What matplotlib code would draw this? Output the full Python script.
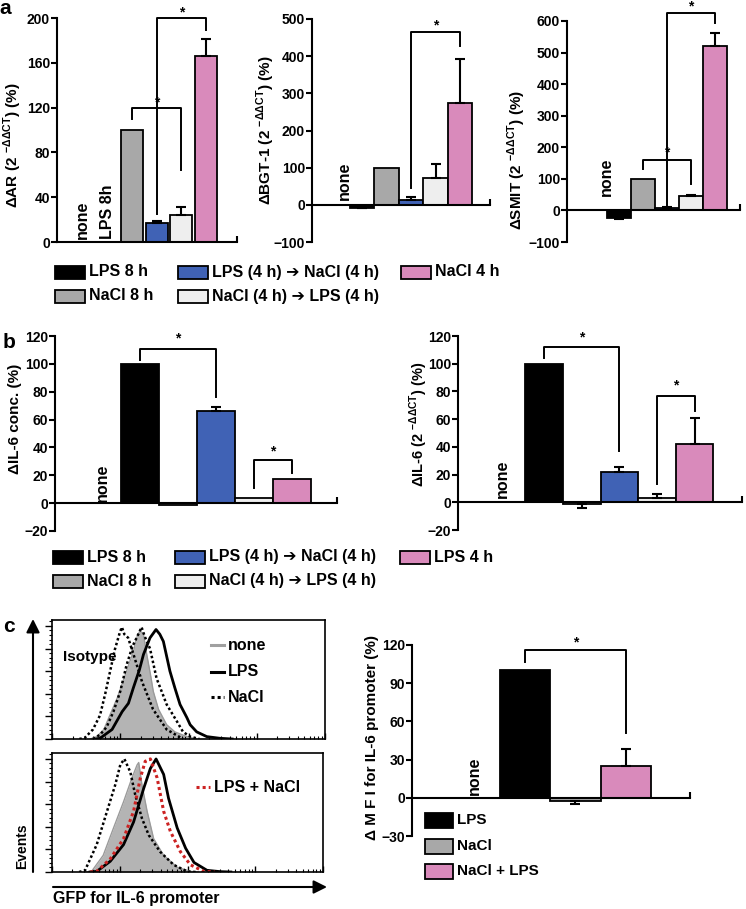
import matplotlib
matplotlib.use('Agg')
import matplotlib.pyplot as plt
from matplotlib.patches import Rectangle
import numpy as np

plt.rcParams['font.family'] = ['Liberation Sans', 'DejaVu Sans']
plt.rcParams['font.weight'] = 'bold'
plt.rcParams['mathtext.fontset'] = 'custom'
plt.rcParams['mathtext.rm'] = 'Liberation Sans'
plt.rcParams['mathtext.bf'] = 'Liberation Sans:bold'
plt.rcParams['axes.linewidth'] = 1.5

W, H = 746, 909

BLACK = '#000000'
GRAY = '#a8a8a8'
BLUE = '#4062b5'
LIGHT = '#eeeeee'
PINK = '#d98abb'
bar_colors = [BLACK, GRAY, BLUE, LIGHT, PINK]

# ---- panel a : values for LPS 8h, NaCl 8h, LPS->NaCl, NaCl->LPS, NaCl 4h
ar_vals = [None, 100, 17, 24, 166]
ar_err = [0, 0, 1.8, 7, 15]
bgt_vals = [-8, 100, 12, 72, 275]
bgt_err = [1, 0, 9, 37, 118]
smit_vals = [-23, 100, 9, 47, 520]
smit_err = [5, 0, 2, 3, 42]

# ---- panel b : LPS 8h, NaCl 8h, LPS->NaCl, NaCl->LPS, LPS 4h
il6_conc = [100, -1, 66, 4, 17]
il6_conc_err = [0, 0, 3, 0, 0]
il6_mrna = [100, -1.5, 22, 3, 42]
il6_mrna_err = [0, 2.5, 3.5, 3, 19]

# ---- panel c : LPS, NaCl, NaCl + LPS
mfi_vals = [100, -2.5, 25]
mfi_err = [0, 2.6, 13]
mfi_colors = [BLACK, GRAY, PINK]

ARROW = '\u2794'
leg_a = ['LPS 8 h', 'NaCl 8 h', f'LPS (4 h) {ARROW} NaCl (4 h)', f'NaCl (4 h) {ARROW} LPS (4 h)', 'NaCl 4 h']
leg_b = ['LPS 8 h', 'NaCl 8 h', f'LPS (4 h) {ARROW} NaCl (4 h)', f'NaCl (4 h) {ARROW} LPS (4 h)', 'LPS 4 h']
leg_c = ['LPS', 'NaCl', 'NaCl + LPS']

# brackets: (x1, x2, top, left end, right end, star)
ar_brk = [(2, 4, 120, 110, 64, 125), (3, 5, 200, 25, 189, 205)]
bgt_brk = [(3, 5, 464, 45, 428, 482)]
smit_brk = [(2, 4, 160, 130, 83, 184), (3, 5, 626, 15, 595, 645)]
conc_brk = [(1, 3, 111, 103, 76, 118), (4, 5, 31, 11, 22, 37)]
mrna_brk = [(1, 3, 112, 104, 37, 119), (4, 5, 77, 13, 66, 84)]
mfi_brk = [(1, 3, 116, 107, 51, 122)]

# ---- flow histograms (x: arbitrary log channel 0-100, y: % of max)
iso_top_x = [10, 12, 15, 17.6, 19.5, 21.2, 23, 24.9, 25.6, 26.5, 27.9, 30, 33, 37, 42, 48]
iso_top_y = [0, 1, 8, 20, 38, 56, 75, 90, 94, 88, 85, 70, 48, 25, 8, 0]
none_top_x = [14, 16.4, 19, 21.2, 24, 27.3, 30, 31, 32.2, 33.5, 34.7, 36, 37.1, 39, 42, 45, 49.4, 53]
none_top_y = [0, 2, 8, 20, 35, 57, 75, 85, 91, 88, 71, 55, 40, 25, 12, 6, 2, 0]
nacl_top_x = [15, 17.6, 20, 22.5, 25, 27.3, 29.5, 31, 32.8, 34, 35.9, 38.3, 40.5, 42, 45.7, 48, 50.6, 54]
nacl_top_y = [0, 3.6, 10, 23, 40, 62, 78, 85, 94, 86, 76, 51, 38, 29, 15, 6, 2, 0]
lps_top_x = [16, 17.6, 22, 25.7, 28, 29.8, 32, 33.5, 35.9, 38.1, 39.5, 40.8, 43.2, 45, 46.9, 49.4, 50.6, 53, 56.7, 61.5, 66]
lps_top_y = [0, 0.6, 8, 23, 30, 43, 58, 71, 85, 92, 88, 82, 57, 43, 29, 18, 12, 6, 2, 0.6, 0]

iso_bot_x = [10, 12.2, 16.5, 20.3, 23.3, 25.2, 26.7, 28.9, 30.7, 33.2, 35.7, 39.9, 44.9, 49.9, 53]
iso_bot_y = [0, 1.4, 23, 51, 73, 90, 95, 84, 65, 45, 31, 17, 6, 0.5, 0]
none_bot_x = [12, 14.6, 18.9, 22.7, 26.4, 29.5, 31.4, 32, 33.2, 35.1, 37.5, 41.2, 46.2, 51.1, 54]
none_bot_y = [0, 0.5, 14, 37, 59, 79, 90, 92, 73, 51, 28, 14, 4, 0.5, 0]
mix_bot_x = [14, 16.5, 21.5, 26.4, 30.1, 32.6, 34.4, 36.3, 38.8, 41.2, 43.7, 47.4, 51.1, 56, 60]
mix_bot_y = [0, 0.5, 11, 28, 51, 79, 93, 95, 79, 51, 34, 17, 6, 0.5, 0]
lps_bot_x = [14, 16.5, 21.5, 26.4, 30.1, 33.8, 36.3, 38.4, 41.2, 43, 46.2, 49.3, 52.4, 57.2, 62.1, 66]
lps_bot_y = [0, 0.5, 9, 23, 42, 70, 87, 95, 82, 62, 37, 20, 8, 1.4, 0.3, 0]

fig = plt.figure(figsize=(W / 100, H / 100), dpi=100)


def box(l, t, r, b):
    return [l / W, 1 - b / H, (r - l) / W, (b - t) / H]


def bar_panel(rect, vals, errs, colors, width, xlim, ylim, yticks, brackets):
    ax = fig.add_axes(box(*rect))
    for i, (v, e, c) in enumerate(zip(vals, errs, colors), start=1):
        if v is None:
            continue
        ax.bar(i, v, width, color=c, edgecolor='black', linewidth=1.3, zorder=2)
        if e:
            lo, hi = (e, 0) if v < 0 else (0, e)
            ax.errorbar(i, v, yerr=[[lo], [hi]], fmt='none', ecolor='black',
                        elinewidth=1.5, capsize=3.5, capthick=1.5, zorder=3)
    for x1, x2, top, yl, yr, ys in brackets:
        ax.plot([x1, x1, x2, x2], [yl, top, top, yr], color='black', lw=1.4,
                clip_on=False, zorder=4)
        ax.text((x1 + x2) / 2, ys, '*', ha='center', va='center', fontsize=10,
                clip_on=False)
    ax.set_xlim(xlim)
    ax.set_ylim(ylim)
    ax.spines[['top', 'right']].set_visible(False)
    ax.spines['bottom'].set_position(('data', 0))
    ax.set_yticks(yticks)
    ax.set_xticks([xlim[1]])
    ax.tick_params(axis='y', direction='out', length=4, width=1.5, labelsize=10, pad=1)
    ax.tick_params(axis='x', direction='in', length=4, width=1.5, labelbottom=False)
    ax.patch.set_visible(False)
    return ax


ax_ar = bar_panel((57, 18, 237, 242), ar_vals, ar_err, bar_colors, 0.89,
                  (-1.04, 6.25), (0, 200), range(0, 201, 40), ar_brk)
ax_bgt = bar_panel((312, 19, 490, 242), bgt_vals, bgt_err, bar_colors, 1.0,
                   (-1.04, 6.22), (-100, 500), range(-100, 501, 100), bgt_brk)
ax_smit = bar_panel((567, 21, 740, 242), smit_vals, smit_err, bar_colors, 1.0,
                    (-1.14, 6.04), (-100, 600), range(-100, 601, 100), smit_brk)
ax_conc = bar_panel((55, 336, 337, 531), il6_conc, il6_conc_err, bar_colors, 1.0,
                    (-1.25, 6.2), (-20, 120), range(-20, 121, 20), conc_brk)
ax_mrna = bar_panel((458, 336, 742, 530), il6_mrna, il6_mrna_err, bar_colors, 1.0,
                    (-1.29, 6.26), (-20, 120), range(-20, 121, 20), mrna_brk)
ax_mfi = bar_panel((412, 645, 690, 836), mfi_vals, mfi_err, mfi_colors, 1.0,
                   (-1.24, 4.27), (-30, 120), range(-30, 121, 30), mfi_brk)

# rotated "none" / "LPS 8h" labels
for ax, x, y in [(ax_ar, 0, 3), (ax_bgt, 0.3, 12), (ax_smit, 0.5, 45),
                 (ax_conc, 0, 1), (ax_mrna, -0.1, 3), (ax_mfi, 0, 2)]:
    ax.text(x, y, 'none', rotation=90, ha='center', va='bottom', fontsize=11.5)
ax_ar.text(1, 3, 'LPS 8h', rotation=90, ha='center', va='bottom', fontsize=11.5)


# ---- histograms
def hist_axes(rect):
    ax = fig.add_axes(box(*rect))
    ax.set_xlim(0, 100)
    ax.set_ylim(0, 100)
    ax.set_yticks(np.arange(0, 101, 19))
    ax.set_yticks(np.arange(0, 100, 3.8), minor=True)
    ax.set_xticks([0, 25, 50, 75, 100])
    ax.set_xticks([25 * d + 25 * np.log10(k) for d in range(4) for k in range(2, 10)], minor=True)
    ax.tick_params(axis='y', which='major', direction='out', length=5, width=1, labelleft=False)
    ax.tick_params(axis='y', which='minor', direction='out', length=2.5, width=0.8)
    ax.tick_params(axis='x', which='major', direction='in', length=4, width=1, labelbottom=False)
    ax.tick_params(axis='x', which='minor', direction='in', length=2, width=0.8)
    for s in ax.spines.values():
        s.set_linewidth(1.2)
    return ax


DOTS = (0, (1, 1))

axh1 = hist_axes((52, 620, 325, 739))
axh1.fill_between(none_top_x, none_top_y, color='#b4b4b4', lw=0)
axh1.plot(none_top_x, none_top_y, color='#9a9a9a', lw=1)
axh1.plot(iso_top_x, iso_top_y, color='black', ls=DOTS, lw=1.8)
axh1.plot(nacl_top_x, nacl_top_y, color='black', ls=DOTS, lw=1.8)
axh1.plot(lps_top_x, lps_top_y, color='black', lw=2)

axh2 = hist_axes((52, 753, 323, 872))
axh2.fill_between(none_bot_x, none_bot_y, color='#b4b4b4', lw=0)
axh2.plot(none_bot_x, none_bot_y, color='#9a9a9a', lw=1)
axh2.plot(iso_bot_x, iso_bot_y, color='black', ls=DOTS, lw=1.8)
axh2.plot(lps_bot_x, lps_bot_y, color='black', lw=2)
axh2.plot(mix_bot_x, mix_bot_y, color='#cc2222', ls=DOTS, lw=2.2)

# ---- overlay for legends, labels, arrows
ov = fig.add_axes([0, 0, 1, 1], zorder=10)
ov.set_xlim(0, W)
ov.set_ylim(H, 0)
ov.axis('off')

for txt, x, y in [('a', 5, 8), ('b', 9, 342), ('c', 9, 626)]:
    ov.text(x, y, txt, ha='center', va='center', fontsize=15)

ylabels = [
    ('\u0394AR (2 $^{\\mathregular{-\u0394\u0394CT}}$) (%)', 13, 145, 11),
    ('\u0394BGT-1 (2 $^{\\mathregular{-\u0394\u0394CT}}$) (%)', 266, 130, 11),
    ('\u0394SMIT (2 $^{\\mathregular{-\u0394\u0394CT}}$) (%)', 517, 160, 11),
    ('\u0394IL-6 conc. (%)', 15, 419, 11),
    ('\u0394IL-6 (2 $^{\\mathregular{-\u0394\u0394CT}}$) (%)', 419, 424, 10.5),
    ('\u0394 M F I for IL-6 promoter (%)', 372, 738, 11),
]
for txt, x, y, fs in ylabels:
    ov.text(x, y, txt, rotation=90, ha='center', va='center', fontsize=fs)


def legend_block(labels, colors, cols, rows, order, pw, ph, fs):
    for (ci, ri), lab, col in zip(order, labels, colors):
        x, y = cols[ci], rows[ri]
        ov.add_patch(Rectangle((x, y - ph / 2), pw, ph, facecolor=col,
                               edgecolor='black', lw=1.3))
        ov.text(x + pw + 4, y, lab, ha='left', va='center', fontsize=fs)


grid5 = [(0, 0), (0, 1), (1, 0), (1, 1), (2, 0)]
legend_block(leg_a, bar_colors, [55, 178, 401], [272, 296], grid5, 30, 13, 11.5)
legend_block(leg_b, bar_colors, [53, 175, 400], [557, 581], grid5, 30, 13, 11.5)
legend_block(leg_c, mfi_colors, [425], [820, 846, 871], [(0, 0), (0, 1), (0, 2)], 28, 15, 11)

# histogram annotations
ov.text(63, 657, 'Isotype', ha='left', va='center', fontsize=11)
hist_leg = [('none', '#a0a0a0', '-', 645), ('LPS', 'black', '-', 672), ('NaCl', 'black', DOTS, 697)]
for lab, col, ls, y in hist_leg:
    ov.plot([211, 224], [y, y], color=col, ls=ls, lw=2.2)
    ov.text(228, y, lab, ha='left', va='center', fontsize=11.5)
ov.plot([196, 210], [787, 787], color='#cc2222', ls=DOTS, lw=2.2)
ov.text(214, 787, 'LPS + NaCl', ha='left', va='center', fontsize=11.5)

arrow = dict(arrowstyle='-|>', color='black', lw=1.5, mutation_scale=20, shrinkA=0, shrinkB=0)
ov.annotate('', xy=(33, 619), xytext=(33, 872), arrowprops=arrow)
ov.annotate('', xy=(327, 887), xytext=(53, 887), arrowprops=arrow)
ov.text(22, 846, 'Events', rotation=90, ha='center', va='center', fontsize=10)
ov.text(53, 899, 'GFP for IL-6 promoter', ha='left', va='center', fontsize=11.5)

fig.savefig('out.png', dpi=100)
